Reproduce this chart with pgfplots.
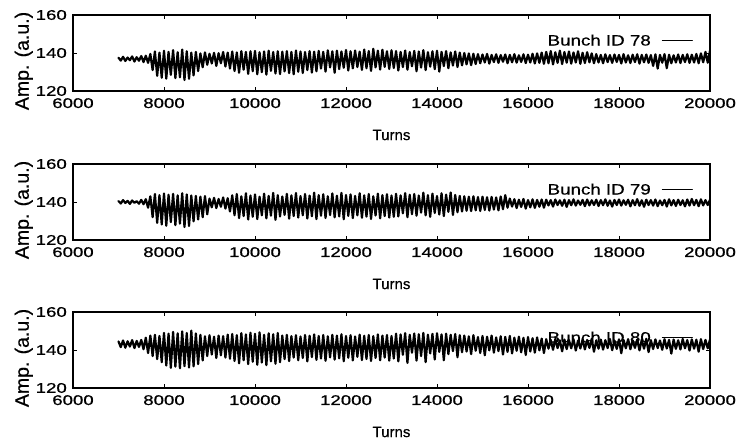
\documentclass[border=0pt]{standalone}
\usepackage{fontspec}
\setmainfont{Liberation Sans}[FakeBold=0.6]
\newfontfamily\tickfont[FakeStretch=1.33,FakeBold=0.8]{Liberation Sans}
\newfontfamily\legfont[FakeStretch=1.25,FakeBold=0.6]{Liberation Sans}
\usepackage{pgfplots}
\pgfplotsset{compat=1.18}
\pgfplotsset{panel/.style={
  scale only axis, width=637bp, height=76bp, anchor=south west,
  xmin=6000, xmax=20000, ymin=120, ymax=160,
  xtick={6000,8000,...,20000}, ytick={120,140,160},
  scaled x ticks=false,
  /pgf/number format/1000 sep={},
  /pgf/number format/assume math mode=true,
  tick align=inside, major tick length=4bp,
  tick style={line width=0.9pt,black},
  axis line style={line width=1.6pt},
  ticklabel style={font=\tickfont\fontsize{14bp}{14bp}\selectfont},
  xticklabel style={anchor=north, inner sep=0pt, yshift=-7bp},
  yticklabel style={anchor=east, inner sep=0pt, xshift=-6bp},
  xlabel={Turns}, ylabel={Amp. (a.u.)},
  xlabel style={font=\fontsize{15bp}{15bp}\selectfont, at={(axis description cs:0.5,0)}, anchor=center, yshift=-44bp},
  ylabel style={font=\fontsize{19.5bp}{20bp}\selectfont, at={(axis description cs:-0.0628,0.395)}, anchor=south, inner sep=0pt},
  legend style={draw=none, fill=none, inner sep=0pt, outer sep=0pt, column sep=9bp,
    at={(axis description cs:0.9733,0.66)}, anchor=east,
    font=\legfont\fontsize{15bp}{15bp}\selectfont},
  legend plot pos=right,
  legend image code/.code={\draw[line width=1.2pt] (0bp,0bp) -- (30bp,0bp);},
}}
\tikzset{sig/.style={black, line width=2.2pt, line join=round, line cap=round, mark=none}}
\begin{document}
\begin{tikzpicture}
\path[use as bounding box] (0,0) rectangle (737bp,442bp);
% ---------------- Panel 1 ----------------
\begin{axis}[panel, at={(73bp,351bp)}]
\addplot[sig] coordinates {
(7000,137.5)(7050,136.0)(7100,138.0)(7150,135.8)(7200,137.6)(7250,136.2)(7300,138.2)(7350,135.5)(7400,137.8)(7450,135.9)(7500,138.4)(7550,135.2)(7600,138.6)(7650,134.8)
(7700,139.5)(7750,131.0)(7800,140.8)(7850,128.0)(7900,140.2)(7950,127.0)(8000,141.2)(8050,126.5)(8100,140.6)(8150,128.5)(8200,141.5)(8250,126.8)(8300,140.4)(8350,127.2)(8400,141.8)(8450,125.8)(8500,140.9)(8550,126.4)(8600,140.2)(8650,128.2)(8700,140.6)(8750,130.5)
(8800,139.8)(8850,132.5)(8900,140.3)(8950,133.8)(9000,139.6)(9050,134.5)(9100,140.1)(9150,133.2)(9200,139.9)(9250,134.6)(9300,140.5)(9350,132.9)(9400,140.2)(9450,131.8)
(9500,140.8)(9550,130.5)(9600,140.3)(9650,129.6)(9700,141.0)(9750,131.2)(9800,140.6)(9850,129.0)(9900,140.9)(9950,130.4)(10000,141.1)(10050,128.8)(10100,140.4)(10150,129.9)(10200,140.8)(10250,128.6)(10300,141.2)(10350,130.6)(10400,140.5)(10450,129.2)(10500,140.9)(10550,128.9)(10600,140.7)(10650,130.3)(10700,141.0)(10750,129.4)(10800,140.6)(10850,128.8)(10900,141.3)(10950,130.1)(11000,140.8)(11050,129.5)(11100,140.5)(11150,131.0)(11200,141.0)(11250,129.7)(11300,140.7)(11350,130.4)
(11400,141.1)(11450,131.8)(11500,140.6)(11550,130.2)(11600,141.4)(11650,132.4)(11700,140.9)(11750,129.6)(11800,141.2)(11850,131.5)(11900,140.8)(11950,132.2)(12000,141.6)(12050,130.8)(12100,140.9)(12150,131.9)(12200,141.3)(12250,132.6)(12300,140.7)(12350,131.1)(12400,141.8)(12450,132.0)(12500,141.0)(12550,130.6)(12600,142.2)(12650,132.4)(12700,141.2)(12750,131.3)(12800,141.7)(12850,132.7)(12900,140.9)(12950,131.6)(13000,141.4)(13050,132.1)
(13100,141.0)(13150,130.8)(13200,140.6)(13250,132.6)(13300,141.3)(13350,131.2)(13400,140.5)(13450,133.0)(13500,141.1)(13550,130.4)(13600,140.8)(13650,132.3)(13700,141.5)(13750,131.0)(13800,140.4)(13850,132.8)(13900,140.9)(13950,131.5)(14000,141.2)(14050,130.2)(14100,140.6)(14150,133.1)(14200,141.0)(14250,132.0)(14300,140.3)(14350,133.4)(14400,140.8)(14450,132.6)(14500,140.2)(14550,133.5)(14600,140.0)(14650,134.0)(14700,139.8)(14750,133.6)(14800,139.6)(14850,134.2)
(14900,139.4)(14950,134.6)(15000,139.2)(15050,135.0)(15100,139.5)(15150,134.4)(15200,139.0)(15250,135.2)(15300,139.3)(15350,134.8)(15400,138.9)(15450,135.4)(15500,139.2)(15550,134.6)(15600,139.0)(15650,135.1)(15700,139.4)(15750,134.9)(15800,138.8)(15850,135.3)(15900,139.3)(15950,134.7)(16000,139.1)(16050,135.0)(16100,139.6)(16150,134.5)(16200,139.8)(16250,134.8)(16300,140.2)(16350,134.3)
(16400,140.6)(16450,134.6)(16500,141.0)(16550,134.0)(16600,140.4)(16650,134.8)(16700,141.2)(16750,134.2)(16800,140.5)(16850,134.9)(16900,140.8)(16950,134.4)(17000,140.3)(17050,135.0)(17100,140.9)(17150,134.3)(17200,140.1)(17250,134.7)(17300,140.4)(17350,135.1)(17400,139.8)(17450,134.6)
(17500,139.4)(17550,135.0)(17600,139.0)(17650,134.6)(17700,139.3)(17750,135.2)(17800,138.9)(17850,134.8)(17900,139.2)(17950,135.3)(18000,139.0)(18050,134.5)(18100,139.4)(18150,135.0)(18200,138.8)(18250,134.7)(18300,139.1)(18350,135.2)(18400,139.3)(18450,134.4)(18500,139.0)(18550,135.1)(18600,139.2)(18650,134.8)(18700,138.9)(18750,133.2)(18800,139.3)(18850,131.8)(18900,139.0)(18950,134.9)(19000,139.4)(19050,132.0)(19100,139.1)(19150,134.6)(19200,138.8)(19250,135.0)(19300,139.2)(19350,134.7)(19400,139.0)(19450,135.2)(19500,139.3)(19550,134.8)(19600,139.1)(19650,135.0)(19700,139.5)(19750,134.6)(19800,139.8)(19850,135.1)(19900,140.6)(19950,134.9)(20000,141.2)
};
\addlegendentry{Bunch ID 78}
\end{axis}
% ---------------- Panel 2 ----------------
\begin{axis}[panel, at={(73bp,202bp)}]
\addplot[sig] coordinates {
(7000,140.5)(7050,139.2)(7100,141.0)(7150,139.5)(7200,140.6)(7250,139.0)(7300,140.8)(7350,139.6)(7400,140.4)(7450,139.1)(7500,141.1)(7550,138.8)(7600,141.5)(7650,137.0)
(7700,143.0)(7750,132.0)(7800,144.2)(7850,129.0)(7900,143.6)(7950,128.2)(8000,144.5)(8050,127.5)(8100,143.8)(8150,129.4)(8200,144.3)(8250,127.8)(8300,143.5)(8350,128.6)(8400,144.6)(8450,126.8)(8500,144.0)(8550,127.4)(8600,143.4)(8650,129.8)
(8700,143.2)(8750,130.8)(8800,142.8)(8850,132.0)(8900,143.1)(8950,133.5)
(9000,141.8)(9050,137.2)(9100,142.2)(9150,136.8)(9200,141.6)(9250,137.5)(9300,142.4)(9350,136.5)(9400,142.0)(9450,135.0)
(9500,143.5)(9550,133.0)(9600,144.2)(9650,131.5)(9700,143.0)(9750,132.6)(9800,144.6)(9850,130.8)(9900,143.4)(9950,132.2)(10000,144.0)(10050,131.0)(10100,142.8)(10150,133.0)(10200,144.4)(10250,131.4)(10300,143.2)(10350,132.8)(10400,144.8)(10450,130.6)(10500,143.6)(10550,132.4)(10600,142.9)(10650,133.2)(10700,144.3)(10750,131.2)(10800,143.5)(10850,132.6)(10900,144.7)(10950,131.8)(11000,143.1)(11050,133.0)(11100,144.2)(11150,131.3)(11200,143.4)(11250,132.5)(11300,144.9)(11350,131.0)(11400,143.6)(11450,132.8)(11500,144.1)(11550,131.6)(11600,143.0)(11650,133.1)(11700,144.5)(11750,131.9)(11800,143.3)(11850,132.4)(11900,144.8)(11950,130.9)(12000,143.7)(12050,132.7)(12100,144.0)(12150,131.5)(12200,143.2)(12250,133.0)(12300,144.6)(12350,131.7)(12400,143.5)(12450,132.3)(12500,144.2)(12550,131.1)(12600,143.0)(12650,132.9)(12700,144.4)(12750,131.4)(12800,143.6)(12850,132.6)(12900,144.1)(12950,131.8)(13000,143.4)(13050,132.2)
(13100,144.3)(13150,132.4)(13200,143.5)(13250,134.0)(13300,144.7)(13350,132.0)(13400,143.8)(13450,133.6)(13500,144.2)(13550,132.8)(13600,143.4)(13650,134.4)(13700,144.9)(13750,133.0)(13800,143.6)(13850,132.2)(13900,144.4)(13950,134.2)(14000,143.1)(14050,133.4)(14100,144.6)(14150,132.6)(14200,143.9)(14250,134.8)(14300,145.0)(14350,133.2)(14400,143.7)(14450,134.6)(14500,143.2)(14550,135.0)(14600,143.0)(14650,135.4)(14700,142.8)(14750,135.2)(14800,143.0)(14850,135.6)(14900,142.6)(14950,135.3)(15000,142.8)(15050,135.8)(15100,142.5)(15150,135.5)(15200,142.7)(15250,136.0)(15300,142.4)(15350,135.6)(15400,142.9)(15450,136.2)
(15500,143.6)(15550,137.0)(15600,141.8)(15650,137.6)(15700,141.5)(15750,136.8)(15800,141.2)(15850,137.4)(15900,141.6)(15950,136.5)(16000,141.0)(16050,137.2)(16100,141.4)(16150,136.9)(16200,141.1)(16250,137.5)(16300,141.3)(16350,137.0)
(16400,141.2)(16450,138.2)(16500,141.0)(16550,137.6)(16600,141.3)(16650,138.4)(16700,140.9)(16750,138.0)(16800,141.2)(16850,137.4)(16900,141.0)(16950,138.3)(17000,141.4)(17050,138.1)(17100,140.8)(17150,138.5)(17200,141.1)(17250,137.8)(17300,141.3)(17350,138.2)(17400,140.9)(17450,138.4)(17500,141.2)(17550,137.9)(17600,141.0)(17650,138.3)(17700,141.4)(17750,138.0)(17800,140.8)(17850,137.6)(17900,141.1)(17950,138.4)(18000,141.3)(18050,138.1)(18100,140.9)(18150,138.5)(18200,141.2)(18250,137.7)(18300,141.0)(18350,138.3)(18400,141.5)(18450,138.0)(18500,140.9)(18550,137.5)(18600,141.2)(18650,138.4)(18700,141.0)(18750,138.1)(18800,141.3)(18850,137.8)(18900,140.8)(18950,138.3)(19000,141.1)(19050,137.6)(19100,141.4)(19150,138.2)(19200,141.0)(19250,137.9)(19300,141.2)(19350,138.4)(19400,140.9)(19450,137.7)(19500,141.3)(19550,138.1)(19600,141.6)(19650,138.3)(19700,141.1)(19750,137.8)(19800,141.4)(19850,138.2)(19900,141.0)(19950,138.4)(20000,141.2)
};
\addlegendentry{Bunch ID 79}
\end{axis}
% ---------------- Panel 3 ----------------
\begin{axis}[panel, at={(73bp,54bp)}]
\addplot[sig] coordinates {
(7000,144.5)(7050,141.5)(7100,145.0)(7150,141.2)(7200,144.6)(7250,141.8)(7300,145.2)(7350,141.0)(7400,144.8)(7450,141.6)(7500,145.3)(7550,140.4)
(7600,146.5)(7650,138.4)(7700,147.6)(7750,136.8)(7800,148.0)(7850,135.2)(7900,147.4)(7950,133.6)
(8000,149.0)(8050,131.8)(8100,148.6)(8150,130.6)(8200,149.5)(8250,131.2)(8300,148.8)(8350,130.4)(8400,149.8)(8450,131.5)(8500,148.9)(8550,130.8)(8600,150.2)(8650,131.4)(8700,148.7)(8750,132.6)
(8800,148.0)(8850,134.5)(8900,147.2)(8950,136.8)(9000,147.8)(9050,137.6)(9100,147.0)(9150,135.8)(9200,147.6)(9250,137.2)(9300,147.3)(9350,136.0)(9400,148.1)(9450,135.4)
(9500,148.4)(9550,134.2)(9600,147.8)(9650,133.0)(9700,148.9)(9750,134.6)(9800,148.2)(9850,132.6)(9900,149.1)(9950,133.8)(10000,148.5)(10050,132.2)(10100,149.3)(10150,133.4)(10200,148.0)(10250,132.0)(10300,148.8)(10350,134.0)(10400,148.3)(10450,132.8)(10500,148.9)(10550,133.6)
(10600,147.6)(10650,135.2)(10700,148.0)(10750,134.2)(10800,147.3)(10850,136.0)(10900,147.8)(10950,134.6)(11000,147.1)(11050,135.8)(11100,147.9)(11150,134.0)(11200,147.5)(11250,136.3)(11300,148.2)(11350,134.8)(11400,147.4)(11450,135.5)(11500,147.9)(11550,134.3)(11600,147.2)(11650,136.1)(11700,148.0)(11750,134.9)(11800,147.6)(11850,135.6)(11900,148.3)(11950,134.1)(12000,147.4)(12050,135.9)(12100,147.8)(12150,134.5)(12200,147.1)(12250,136.4)(12300,148.1)(12350,134.7)(12400,147.5)(12450,135.3)(12500,147.9)(12550,134.2)(12600,147.3)(12650,135.8)(12700,148.2)(12750,134.6)(12800,147.6)(12850,136.0)(12900,147.9)(12950,134.4)(13000,147.4)(13050,135.5)
(13100,148.6)(13150,134.0)(13200,148.2)(13250,137.5)(13300,148.9)(13350,133.2)(13400,148.0)(13450,138.6)(13500,148.7)(13550,134.4)(13600,148.3)(13650,136.8)(13700,149.0)(13750,133.6)(13800,148.1)(13850,138.2)(13900,148.5)(13950,135.0)(14000,148.8)(14050,139.0)(14100,148.2)(14150,134.6)(14200,148.6)(14250,137.8)(14300,148.0)(14350,139.4)(14400,148.4)(14450,136.2)(14500,147.8)(14550,138.8)
(14600,147.6)(14650,139.2)(14700,147.2)(14750,137.8)(14800,147.8)(14850,139.6)(14900,146.8)(14950,138.4)(15000,147.4)(15050,137.2)(15100,147.0)(15150,139.8)(15200,147.6)(15250,138.6)(15300,146.6)(15350,139.4)(15400,147.2)(15450,137.6)(15500,146.9)(15550,139.0)(15600,147.4)(15650,138.2)(15700,146.5)(15750,139.6)(15800,147.0)(15850,138.8)(15900,146.4)(15950,137.4)(16000,146.8)(16050,139.2)(16100,146.2)(16150,138.6)(16200,146.6)(16250,139.8)(16300,146.0)(16350,138.4)
(16400,145.7)(16450,140.7)(16500,145.3)(16550,140.1)(16600,145.8)(16650,141.0)(16700,145.1)(16750,139.3)(16800,145.5)(16850,140.5)(16900,145.2)(16950,140.9)(17000,145.7)(17050,139.7)(17100,145.0)(17150,140.8)(17200,145.6)(17250,140.3)(17300,145.3)(17350,141.1)(17400,145.9)(17450,139.1)(17500,145.1)(17550,140.7)(17600,145.5)(17650,140.2)(17700,145.2)(17750,141.0)(17800,145.8)(17850,139.9)(17900,145.0)(17950,140.6)(18000,145.6)(18050,138.3)(18100,145.3)(18150,140.9)(18200,145.7)(18250,140.4)(18300,145.1)(18350,141.1)(18400,145.5)(18450,139.8)(18500,145.4)(18550,140.7)(18600,145.9)(18650,138.9)(18700,145.2)(18750,140.5)(18800,145.6)(18850,141.0)(18900,145.0)(18950,140.1)(19000,145.7)(19050,140.8)(19100,145.3)(19150,138.1)(19200,145.5)(19250,140.6)(19300,145.1)(19350,140.3)(19400,145.8)(19450,140.9)(19500,145.2)(19550,139.7)(19600,145.6)(19650,140.7)(19700,145.4)(19750,139.1)(19800,145.7)(19850,140.5)(19900,145.3)(19950,140.9)(20000,145.5)
};
\addlegendentry{Bunch ID 80}
\end{axis}
\end{tikzpicture}
\end{document}
